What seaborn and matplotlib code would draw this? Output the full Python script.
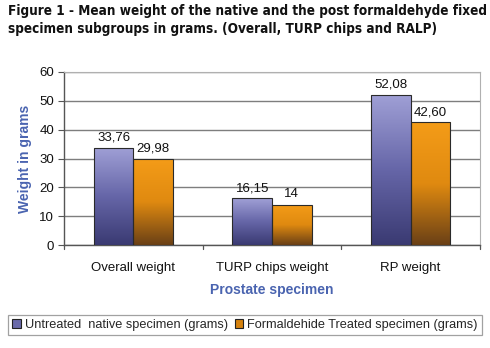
import numpy as np
import pandas as pd
import matplotlib
matplotlib.use("Agg")
import matplotlib.pyplot as plt
from matplotlib.colors import LinearSegmentedColormap
from matplotlib.patches import Patch
import seaborn as sns

categories = ["Overall weight", "TURP chips weight", "RP weight"]
series = ["Untreated  native specimen (grams)", "Formaldehide Treated specimen (grams)"]
untreated = [33.76, 16.15, 52.08]
treated = [29.98, 14.0, 42.60]
untreated_labels = ["33,76", "16,15", "52,08"]
treated_labels = ["29,98", "14", "42,60"]
yticks = [0, 10, 20, 30, 40, 50, 60]
title_lines = ["Figure 1 - Mean weight of the native and the post formaldehyde fixed",
               "specimen subgroups in grams. (Overall, TURP chips and RALP)"]

df = pd.DataFrame({
    "cat": categories * 2,
    "series": [series[0]] * 3 + [series[1]] * 3,
    "val": untreated + treated,
})

sns.set_style("white")
plt.rcParams["font.family"] = ["Liberation Sans", "DejaVu Sans"]

fig = plt.figure(figsize=(4.9, 3.48), dpi=100)
ax = fig.add_axes([64/490, 1-245/348, (480-64)/490, (245-72)/348])

blue_mid = "#7777b8"
orange_mid = "#e8900f"
sns.barplot(data=df, x="cat", y="val", hue="series", order=categories,
            hue_order=series, palette=[blue_mid, orange_mid], width=0.57,
            ax=ax, legend=False, edgecolor="#2a2a2a", linewidth=0.8, zorder=3)

cmaps = [
    LinearSegmentedColormap.from_list("b", ["#3a3a72", "#6666a8", "#a0a0d6"]),
    LinearSegmentedColormap.from_list("o", ["#6a4016", "#e08a10", "#f49c18"]),
]
ax.set_xlim(-0.5, 2.5)
ax.set_ylim(0, 60)
grad = np.linspace(0, 1, 256).reshape(-1, 1)
for ci, cont in enumerate(ax.containers):
    for bar in cont:
        x0, y0 = bar.get_x(), bar.get_y()
        w, h = bar.get_width(), bar.get_height()
        im = ax.imshow(grad, cmap=cmaps[ci], origin="lower", aspect="auto",
                       extent=[x0, x0 + w, y0, y0 + h], zorder=3.5)
        im.set_clip_path(bar)
        bar.set_facecolor("none")
        bar.set_zorder(4)
ax.set_xlim(-0.5, 2.5)
ax.set_ylim(0, 60)
ax.set_aspect("auto")

for ci, labs in enumerate([untreated_labels, treated_labels]):
    for bar, lab in zip(ax.containers[ci], labs):
        ax.annotate(lab, (bar.get_x() + bar.get_width()/2, bar.get_height()),
                    xytext=(0, 3), textcoords="offset points", ha="center",
                    va="bottom", fontsize=9.5, color="#111111", zorder=5)

ax.set_yticks(yticks)
ax.yaxis.grid(True, color="#7e7e7e", linewidth=1.0, zorder=0)
ax.set_axisbelow(True)
ax.set_xticks([0, 1, 2])
ax.set_xticklabels(categories, fontsize=9.5, color="#111111")
ax.tick_params(axis="x", length=0, pad=12)
ax.tick_params(axis="y", labelsize=9.5, labelcolor="#111111", length=4,
               color="#555555", direction="out", left=True, pad=3)
for xb in [-0.5, 0.5, 1.5, 2.5]:
    ax.plot([xb, xb], [0, -0.025], transform=ax.get_xaxis_transform(),
            color="#555555", lw=0.9, clip_on=False)
for side in ["top", "right"]:
    ax.spines[side].set_visible(True)
    ax.spines[side].set_color("#b0b0b0")
    ax.spines[side].set_linewidth(0.8)
for side in ["left", "bottom"]:
    ax.spines[side].set_color("#555555")
    ax.spines[side].set_linewidth(1.0)

ax.set_xlabel("Prostate specimen", fontsize=10, fontweight="bold",
              color="#4a64b0", labelpad=7)
ax.set_ylabel("Weight in grams", fontsize=10, fontweight="bold",
              color="#4a64b0", labelpad=5)

# title: two lines, first line fitted to the available width
renderer = fig.canvas.get_renderer()
target_w = 480
fs = 11.0
t1 = fig.text(8/490, 1-4/348, title_lines[0], fontsize=fs, fontweight="bold",
              fontstretch="condensed", family=["DejaVu Sans"], va="top", ha="left",
              color="#111111")
w = t1.get_window_extent(renderer).width
fs = fs * target_w / w
t1.set_fontsize(fs)
t2 = fig.text(8/490, 1-22/348, title_lines[1], fontsize=fs, fontweight="bold",
              fontstretch="condensed", family=["DejaVu Sans"], va="top", ha="left",
              color="#111111")

handles = [Patch(facecolor="#6a6aaa", edgecolor="#222222", linewidth=0.8),
           Patch(facecolor="#d6820e", edgecolor="#222222", linewidth=0.8)]
leg = fig.legend(handles, series, loc="center", bbox_to_anchor=(0.5, 1-325/348),
                 ncol=2, fontsize=9.2, frameon=True, fancybox=False,
                 edgecolor="#8a8a8a", handlelength=0.7, handleheight=0.7,
                 handletextpad=0.3, columnspacing=0.5, borderpad=0.35)
leg.get_frame().set_linewidth(0.9)

fig.savefig("out.png", dpi=100)
